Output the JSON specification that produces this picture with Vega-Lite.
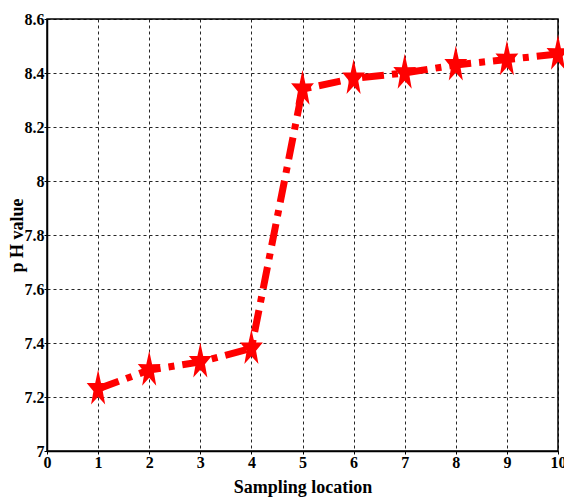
{
  "$schema": "https://vega.github.io/schema/vega-lite/v6.json",
  "width": 511,
  "height": 432,
  "autosize": {"type": "none"},
  "padding": {"left": 47, "top": 19, "right": 6, "bottom": 47},
  "background": "white",
  "config": {
    "view": {"stroke": "black", "strokeWidth": 1.5},
    "font": "Liberation Serif",
    "axis": {
      "labelFont": "Liberation Serif",
      "labelFontWeight": "bold",
      "labelFontSize": 16,
      "labelColor": "black",
      "titleFont": "Liberation Serif",
      "titleFontWeight": "bold",
      "titleFontSize": 18,
      "titleColor": "black",
      "domainColor": "black",
      "domainWidth": 1.5,
      "tickColor": "black",
      "tickSize": 3,
      "gridColor": "black",
      "gridDash": [3, 3],
      "gridWidth": 1,
      "gridOpacity": 0.85
    }
  },
  "data": {
    "values": [
      {"location": 1, "ph": 7.23},
      {"location": 2, "ph": 7.30},
      {"location": 3, "ph": 7.33},
      {"location": 4, "ph": 7.38},
      {"location": 5, "ph": 8.34},
      {"location": 6, "ph": 8.38},
      {"location": 7, "ph": 8.40},
      {"location": 8, "ph": 8.43},
      {"location": 9, "ph": 8.45},
      {"location": 10, "ph": 8.47}
    ]
  },
  "encoding": {
    "x": {
      "field": "location",
      "type": "quantitative",
      "scale": {"domain": [0, 10], "nice": false},
      "axis": {"values": [0,1,2,3,4,5,6,7,8,9,10], "title": "Sampling location", "labelPadding": 0, "titlePadding": 8, "labelFlush": false}
    },
    "y": {
      "field": "ph",
      "type": "quantitative",
      "scale": {"domain": [7, 8.6], "nice": false, "zero": false},
      "axis": {"values": [7, 7.2, 7.4, 7.6, 7.8, 8, 8.2, 8.4, 8.6], "format": "~g", "title": "p H  value", "titleX": -30, "titleBaseline": "middle", "labelPadding": 0, "labelFlush": false}
    }
  },
  "layer": [
    {
      "mark": {"type": "line", "color": "#ff0000", "strokeWidth": 7, "strokeDash": [22, 8, 6, 8]}
    },
    {
      "mark": {
        "type": "point",
        "shape": "M0,-1L0.15,-0.3L0.59,-0.309L0.24,0.12L0.365,0.809L0,0.4L-0.365,0.809L-0.24,0.12L-0.59,-0.309L-0.15,-0.3Z",
        "filled": true,
        "color": "#ff0000",
        "opacity": 1,
        "size": 1500
      }
    }
  ]
}
